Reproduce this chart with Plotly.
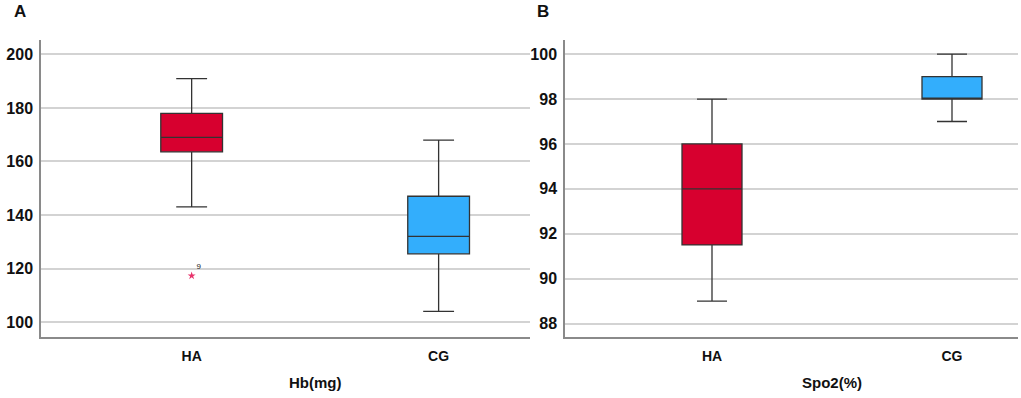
import plotly.graph_objects as go

groups = ["HA", "CG"]
# Panel A: Hb(mg)
hb_lower = [143, 104]
hb_q1 = [163.6, 125.5]
hb_median = [169, 132]
hb_q3 = [178, 147]
hb_upper = [191, 168]
hb_outlier_group = ["HA"]
hb_outlier_value = [117.3]
hb_outlier_label = ["9"]
# Panel B: Spo2(%)
spo_lower = [89, 97]
spo_q1 = [91.5, 98]
spo_median = [94, 98]
spo_q3 = [96, 99]
spo_upper = [98, 100]

colors = ["#d7002f", "#33aefc"]
fnt = dict(family="Arial, Liberation Sans, sans-serif", size=16, color="#111", weight="bold")

fig = go.Figure()
for i, g in enumerate(groups):
    fig.add_trace(go.Box(x=[g], q1=[hb_q1[i]], median=[hb_median[i]], q3=[hb_q3[i]],
                         lowerfence=[hb_lower[i]], upperfence=[hb_upper[i]],
                         fillcolor=colors[i], line=dict(color="#333333", width=1.3),
                         width=0.25, whiskerwidth=0.5, boxpoints=False,
                         xaxis="x", yaxis="y", showlegend=False))
    fig.add_trace(go.Box(x=[g], q1=[spo_q1[i]], median=[spo_median[i]], q3=[spo_q3[i]],
                         lowerfence=[spo_lower[i]], upperfence=[spo_upper[i]],
                         fillcolor=colors[i], line=dict(color="#333333", width=1.3),
                         width=0.25, whiskerwidth=0.5, boxpoints=False,
                         xaxis="x2", yaxis="y2", showlegend=False))

fig.add_trace(go.Scatter(x=hb_outlier_group, y=hb_outlier_value, mode="markers+text",
                         text=hb_outlier_label, textposition="top right",
                         textfont=dict(family="Arial, Liberation Sans", size=8, color="#222"),
                         marker=dict(symbol="star", size=6, color="#e8336b"),
                         xaxis="x", yaxis="y", showlegend=False, cliponaxis=False))

W = 1021.0
common_y = dict(showgrid=True, gridcolor="#d3d3d3", gridwidth=1.5, zeroline=False,
                showline=True, linecolor="#8a8a8a", linewidth=1.5, ticks="",
                tickfont=fnt, automargin=False, ticklabelstandoff=3)
common_x = dict(type="category", showgrid=False, zeroline=False, showline=True,
                linecolor="#8a8a8a", linewidth=1.5, ticks="",
                tickfont=dict(fnt, size=14), automargin=False, ticklabelstandoff=5)

fig.update_layout(
    width=1021, height=398, margin=dict(l=0, r=0, t=40, b=61),
    paper_bgcolor="white", plot_bgcolor="white",
    xaxis=dict(common_x, domain=[41 / W, 530 / W], range=[-0.61, 1.37], anchor="y"),
    yaxis=dict(common_y, range=[94.4, 205.4], tickvals=[100, 120, 140, 160, 180, 200], anchor="x"),
    xaxis2=dict(common_x, domain=[565 / W, 1018 / W], range=[-0.6125, 1.275], anchor="y2"),
    yaxis2=dict(common_y, range=[87.4, 100.63], tickvals=[88, 90, 92, 94, 96, 98, 100], anchor="x2"),
    annotations=[
        dict(text="A", x=12 / W, y=1.0, xref="paper", yref="paper", xanchor="left", yanchor="middle",
             yshift=29, showarrow=False, font=dict(fnt, size=17)),
        dict(text="B", x=535 / W, y=1.0, xref="paper", yref="paper", xanchor="left", yanchor="middle",
             yshift=29, showarrow=False, font=dict(fnt, size=17)),
        dict(text="Hb(mg)", x=0.5, xref="x", y=0, yref="paper", yshift=-45, showarrow=False,
             xanchor="center", yanchor="middle", font=dict(fnt, size=15)),
        dict(text="Spo2(%)", x=0.5, xref="x2", y=0, yref="paper", yshift=-45, showarrow=False,
             xanchor="center", yanchor="middle", font=dict(fnt, size=15)),
    ],
)

fig.write_html("out.html", config={"displayModeBar": False},
               post_script="document.body.style.margin='0';document.body.style.padding='0';")
